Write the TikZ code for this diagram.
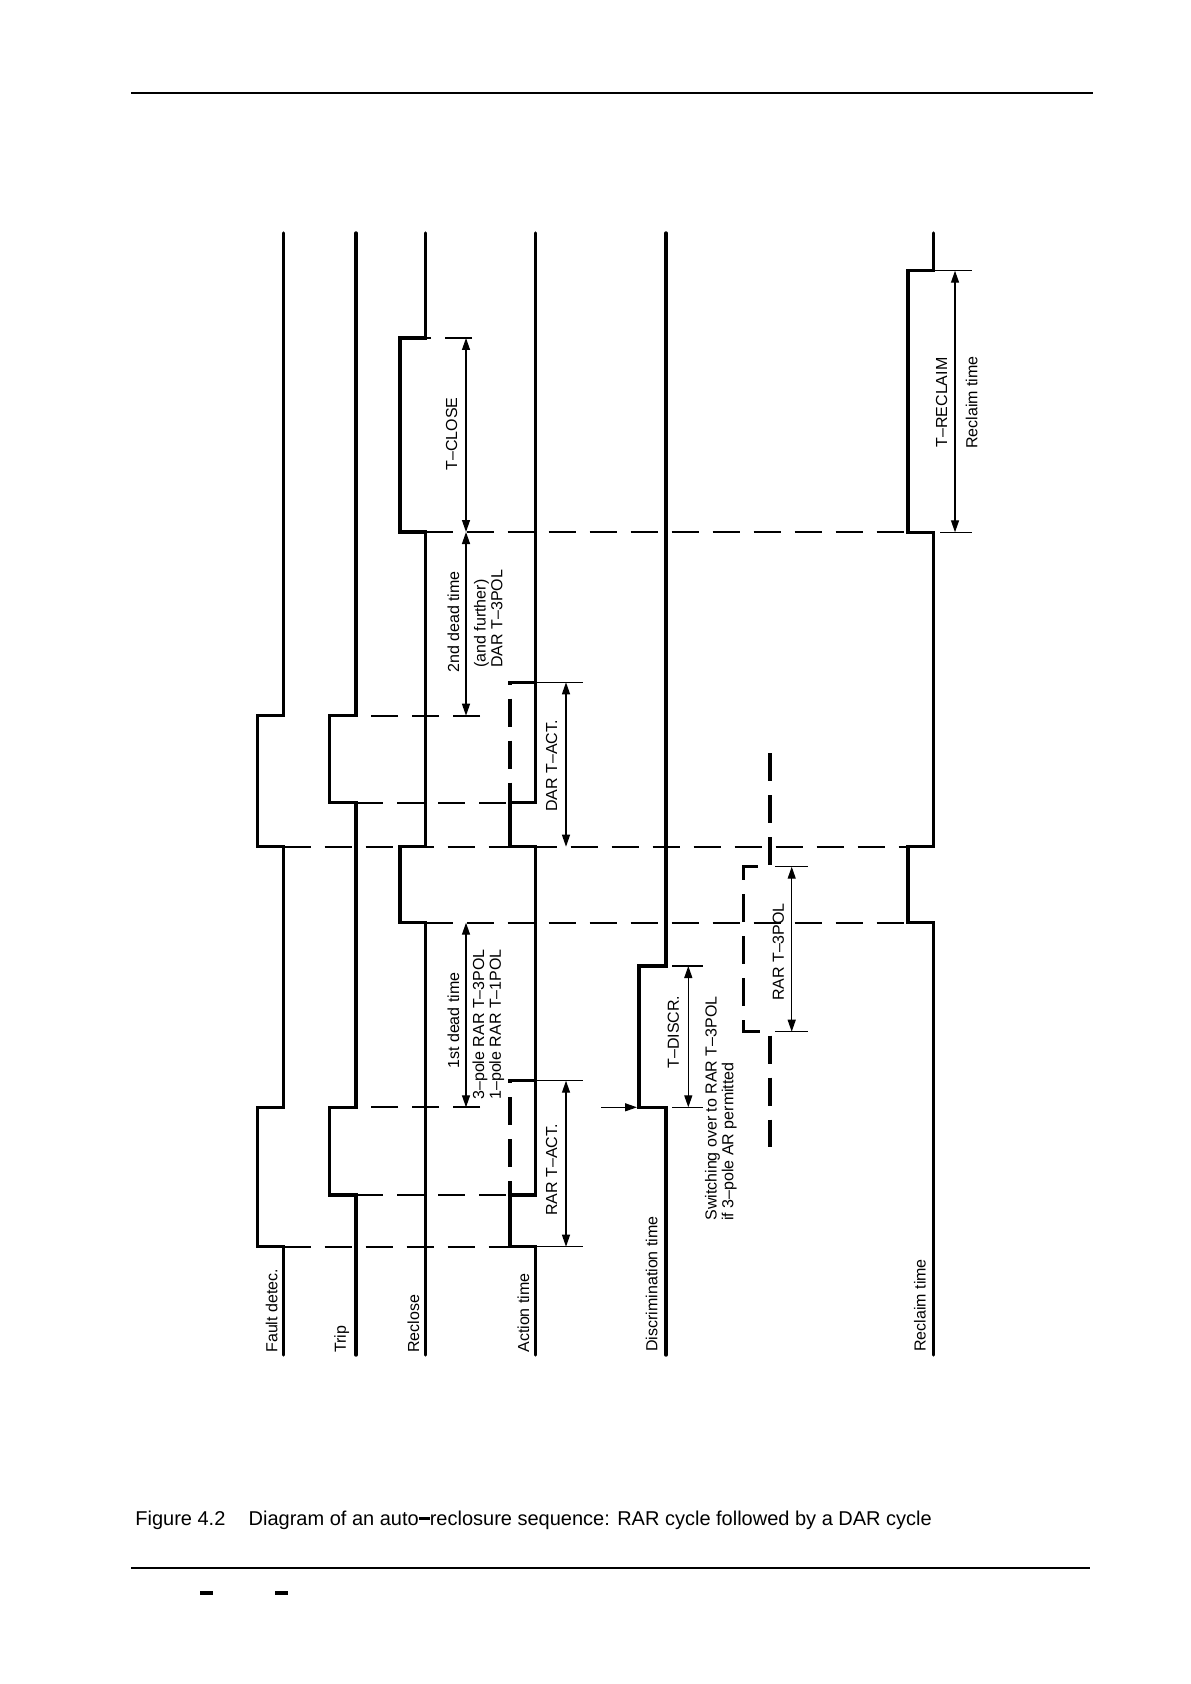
\documentclass[tikz,border=0pt]{standalone}
\usepackage{fontspec}
\setmainfont{Liberation Sans}
\usetikzlibrary{arrows.meta}
\newcommand\capdash{\rule[0.26em]{0.55em}{0.15em}}
\begin{document}
\begin{tikzpicture}[x=0.5pt,y=-0.5pt,
  sig/.style={line width=1.7pt, line join=miter, line cap=round},
  sigd/.style={line width=1.7pt, line join=miter, dash pattern=on 14pt off 7pt},
  guide/.style={line width=0.85pt, dash pattern=on 13.5pt off 7pt},
  tick/.style={line width=0.65pt},
  dim/.style={line width=0.65pt, {Triangle[length=6pt,width=4pt]}-{Triangle[length=6pt,width=4pt]}},
  lbl/.style={font=\fontsize{8}{8.4}\selectfont, rotate=90, inner sep=0pt},
  rulestyle/.style={line width=1pt}]

\useasboundingbox (0,0) rectangle (1190,1684);

% header / footer rules
\draw[rulestyle] (131,93.4) -- (1093,93.4);
\draw[rulestyle] (131,1567.7) -- (1090,1567.7);
\fill (200,1591) rectangle (212.7,1595);
\fill (275,1591) rectangle (287.7,1595);

% guide lines (thin dashed)
\draw[guide] (472,338) -- (425.7,338);
\draw[guide] (425.7,532) -- (908,532);
\draw[guide] (480,715.7) -- (356,715.7);
\draw[guide] (356,802.7) -- (510,802.7);
\draw[guide] (283.5,846.7) -- (908,846.7);
\draw[guide] (425.7,922.7) -- (908,922.7);
\draw[guide] (480,1107.3) -- (356,1107.3);
\draw[guide] (356,1195) -- (510,1195);
\draw[guide] (283.5,1246.7) -- (510,1246.7);

% ticks
\draw[tick] (535.7,682.3) -- (583,682.3);
\draw[tick] (535.7,1080.7) -- (583,1080.7);
\draw[tick] (535.7,1246.7) -- (583,1246.7);
\draw[tick] (672,966) -- (703,966);
\draw[tick] (672,1107.3) -- (703,1107.3);
\draw[tick] (775,866.7) -- (808,866.7);
\draw[tick] (775,1031.7) -- (808,1031.7);
\draw[tick] (934,270.7) -- (971.7,270.7);
\draw[tick] (940,532.3) -- (971.7,532.3);

% signal lines
\draw[sig] (283.5,233) -- (283.5,715.7) -- (257.3,715.7) -- (257.3,846.7) -- (283.5,846.7)
  -- (283.5,1107.3) -- (257.3,1107.3) -- (257.3,1246.7) -- (283.5,1246.7) -- (283.5,1355);
\draw[sig] (356,233) -- (356,715.7) -- (329.3,715.7) -- (329.3,802.7) -- (356,802.7)
  -- (356,1107.3) -- (329.3,1107.3) -- (329.3,1195) -- (356,1195) -- (356,1355);
\draw[sig] (425.7,233) -- (425.7,338) -- (400,338) -- (400,532) -- (425.7,532)
  -- (425.7,846.7) -- (400,846.7) -- (400,922.7) -- (425.7,922.7) -- (425.7,1355);
\draw[sig] (535.7,233) -- (535.7,802.7) -- (510,802.7) -- (510,846.7) -- (535.7,846.7)
  -- (535.7,1195) -- (510,1195) -- (510,1246.7) -- (535.7,1246.7) -- (535.7,1355);
\draw[sigd] (535.7,682.3) -- (510,682.3) -- (510,802.7);
\draw[sigd] (535.7,1080.7) -- (510,1080.7) -- (510,1195);
\draw[sig] (666,233) -- (666,966) -- (639,966) -- (639,1107.3) -- (666,1107.3) -- (666,1355);
\draw[sig] (933.5,233) -- (933.5,270.7) -- (908,270.7) -- (908,532.3) -- (933.5,532.3)
  -- (933.5,846.7) -- (908,846.7) -- (908,922.7) -- (933.5,922.7) -- (933.5,1355);
\draw[sigd] (770,753) -- (770,866.7) -- (743.3,866.7) -- (743.3,1031.7) -- (770,1031.7) -- (770,1146.7);

% dimension arrows
\coordinate (tc1) at (466,338);   \coordinate (tc2) at (466,532);
\coordinate (dd1) at (466,532);   \coordinate (dd2) at (466,715.7);
\coordinate (fd1) at (466,922.7); \coordinate (fd2) at (466,1107.3);
\coordinate (da1) at (566,682.3); \coordinate (da2) at (566,846.7);
\coordinate (ra1) at (566,1080.7);\coordinate (ra2) at (566,1246.7);
\coordinate (di1) at (688.3,966); \coordinate (di2) at (688.3,1107.3);
\coordinate (r3a) at (791.7,866.7); \coordinate (r3b) at (791.7,1031.7);
\coordinate (rc1) at (955,270.7); \coordinate (rc2) at (955,532.3);
\coordinate (sw1) at (601,1107.3); \coordinate (sw2) at (637,1107.3);
\draw[dim] (tc1) -- (tc2);
\draw[dim] (dd1) -- (dd2);
\draw[dim] (fd1) -- (fd2);
\draw[dim] (da1) -- (da2);
\draw[dim] (ra1) -- (ra2);
\draw[dim] (di1) -- (di2);
\draw[dim] (r3a) -- (r3b);
\draw[dim] (rc1) -- (rc2);
\draw[line width=0.65pt, -{Triangle[length=6pt,width=4pt]}] (sw1) -- (sw2);

% signal labels
\node[lbl, anchor=west] (lfd) at (271.7,1353) {Fault detec.};
\node[lbl, anchor=west] (ltr) at (341.7,1353) {Trip};
\node[lbl, anchor=west] (lrc) at (413.3,1353) {Reclose};
\node[lbl, anchor=west] (lac) at (523.3,1353) {Action time};
\node[lbl, anchor=west] (ldi) at (651.7,1352) {Discrimination time};
\node[lbl, anchor=west] (lrt) at (920,1352) {Reclaim time};

% dimension labels
\node[lbl] (ltc) at (451.7,434) {T–CLOSE};
\node[lbl, anchor=west] (l2d) at (453.3,673) {2nd dead time};
\node[lbl, anchor=west, align=left] (l2dar) at (488.3,668) {(and further)\\DAR T–3POL};
\node[lbl, anchor=west] (l1d) at (453.3,1069) {1st dead time};
\node[lbl, anchor=west, align=left] (l1rar) at (488.3,1100) {3–pole RAR T–3POL\\1–pole RAR T–1POL};
\node[lbl] (ldact) at (551.7,766) {DAR T–ACT.};
\node[lbl] (lract) at (551.7,1170) {RAR T–ACT.};
\node[lbl] (ldiscr) at (673.3,1032) {T–DISCR.};
\node[lbl, anchor=west, align=left] (lsw) at (720.8,1221) {Switching over to RAR T–3POL\\if 3–pole AR permitted};
\node[lbl] (lr3) at (778.3,952) {RAR T–3POL};
\node[lbl] (lrcl) at (941.7,402.5) {T–RECLAIM};
\node[lbl] (lrct) at (971.7,402.5) {Reclaim time};

% caption
\node[anchor=base west, inner sep=0pt, font=\fontsize{10}{12}\selectfont] (fig) at (135,1525) {Figure 4.2};
\node[anchor=base west, inner sep=0pt, font=\fontsize{10}{12}\selectfont] (cap) at (248.3,1525)
  {Diagram of an auto\capdash reclosure sequence: RAR cycle followed by a DAR cycle};
\end{tikzpicture}
\end{document}
